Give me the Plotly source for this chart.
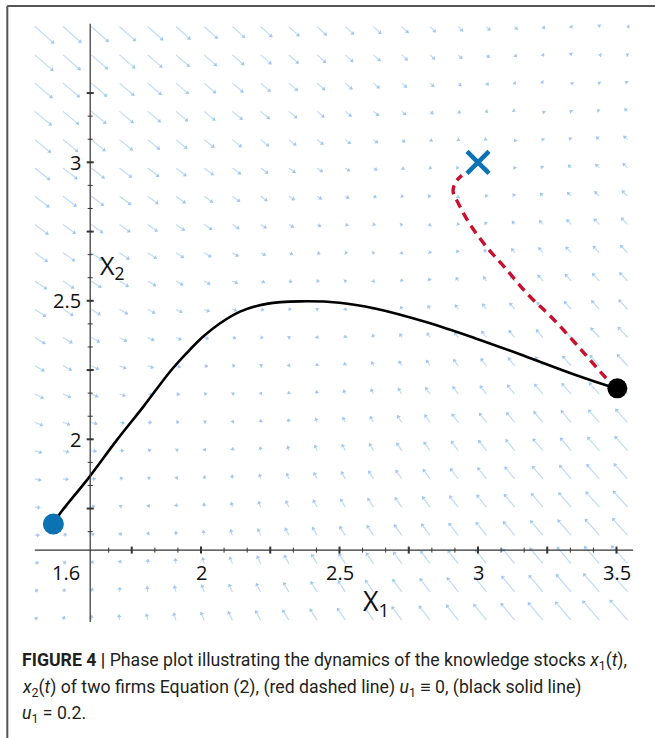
import numpy as np
import plotly.graph_objects as go

# ---------------- data ----------------
# black solid trajectory (u1 = 0.2)
black_x = [1.467, 1.491, 1.593, 1.696, 1.792, 1.888, 1.948, 2.008, 2.069, 2.141, 2.237, 2.357,
           2.500, 2.628, 2.809, 2.989, 3.170, 3.350, 3.483, 3.503]
black_y = [1.694, 1.732, 1.859, 1.997, 2.118, 2.244, 2.311, 2.371, 2.419, 2.461, 2.489, 2.498,
           2.493, 2.472, 2.424, 2.365, 2.300, 2.233, 2.189, 2.184]
# red dashed trajectory (u1 = 0)
red_x = [3.503, 3.458, 3.379, 3.267, 3.181, 3.097, 3.033, 2.971, 2.931, 2.910, 2.921, 2.942]
red_y = [2.184, 2.226, 2.316, 2.439, 2.522, 2.620, 2.692, 2.776, 2.848, 2.895, 2.931, 2.953]
# special points
start_pt = (1.467, 1.694)
switch_pt = (3.503, 2.184)
target_pt = (3.0, 3.0)

# direction field model coefficients (estimated from arrows)
ALPHA = 0.2
BETA = 1.0
C_EQ = 3.2
field_x = np.linspace(1.40, 3.54, 22)
field_y = np.linspace(1.347, 3.49, 22)

# axes / ticks
axis_cross = (1.6, 1.6)
x_axis_span = (1.40, 3.56)
y_axis_span = (1.34, 3.50)
x_tick_vals = [1.6, 2, 2.5, 3, 3.5]
x_tick_text = ["1.6", "2", "2.5", "3", "3.5"]
y_tick_vals = [2, 2.5, 3]
y_tick_text = ["2", "2.5", "3"]

# ---------------- layout constants ----------------
W, H = 655, 738
PX = 277.0  # pixels per data unit
x0 = 2 - 201 / PX
x1 = x0 + W / PX
ytop = 2 + 439.3 / PX
ybot = ytop - H / PX
d = 1 / PX  # one pixel in data units

fig = go.Figure()

# ---- direction field ----
sx, sy, hx, hy, ang = [], [], [], [], []
scale = 7.9 * d
for gx in field_x:
    for gy in field_y:
        vx = ALPHA * (C_EQ - gx) + BETA * (gy - gx)
        vy = ALPHA * (C_EQ - gy) + BETA * (gx - gy)
        ex, ey = gx + vx * scale, gy + vy * scale
        sx += [gx, ex, None]
        sy += [gy, ey, None]
        n = np.hypot(vx, vy)
        ux, uy = (vx / n, vy / n) if n > 0 else (0, 1)
        hx.append(ex - ux * 1.8 * d)
        hy.append(ey - uy * 1.8 * d)
        ang.append(float(np.degrees(np.arctan2(ux, uy))))

fig.add_trace(go.Scatter(x=sx, y=sy, mode="lines",
                         line=dict(color="rgb(190,219,246)", width=1.2),
                         hoverinfo="skip", showlegend=False))
fig.add_trace(go.Scatter(x=hx, y=hy, mode="markers",
                         marker=dict(symbol="triangle-up", size=4, angle=ang,
                                     color="rgb(160,200,243)", line=dict(width=0)),
                         hoverinfo="skip", showlegend=False))

# ---- axes lines ----
ax_col = "#333333"
fig.add_shape(type="line", x0=x_axis_span[0], x1=x_axis_span[1], y0=axis_cross[1], y1=axis_cross[1],
              line=dict(color=ax_col, width=1.2))
fig.add_shape(type="line", x0=axis_cross[0], x1=axis_cross[0], y0=y_axis_span[0], y1=y_axis_span[1],
              line=dict(color=ax_col, width=1.2))

# ticks: majors every 0.25, minors every 1/12
for k in range(int(1.6 * 12) + 1, int(3.5 * 12) + 1):
    v = k / 12
    major = (k % 3 == 0)
    L = (3.5 if major else 2.5) * d
    w = 2.0 if major else 1.0
    fig.add_shape(type="line", x0=v, x1=v, y0=axis_cross[1] - L, y1=axis_cross[1] + L,
                  line=dict(color=ax_col, width=w))
for k in range(int(1.6 * 12) + 1, int(3.26 * 12) + 1):
    v = k / 12
    major = (k % 3 == 0)
    L = (3.5 if major else 2.5) * d
    w = 2.0 if major else 1.0
    fig.add_shape(type="line", y0=v, y1=v, x0=axis_cross[0] - L, x1=axis_cross[0] + L,
                  line=dict(color=ax_col, width=w))

tick_font = dict(family="Open Sans, sans-serif", size=20, color="#111111")
for v, t in zip(x_tick_vals, x_tick_text):
    if v == axis_cross[0]:
        fig.add_annotation(x=v - 8 * d, y=1.520, text=t, showarrow=False, xanchor="right",
                           yanchor="middle", font=tick_font)
    else:
        fig.add_annotation(x=v, y=1.520, text=t, showarrow=False, xanchor="center",
                           yanchor="middle", font=tick_font)
for v, t in zip(y_tick_vals, y_tick_text):
    fig.add_annotation(x=axis_cross[0] - 7 * d, y=v, text=t, showarrow=False, xanchor="right",
                       yanchor="middle", font=tick_font)

fig.add_annotation(x=1.677, y=2.625, text="X<sub>2</sub>", showarrow=False,
                   font=dict(family="Open Sans, sans-serif", size=25, color="#111111"))
fig.add_annotation(x=2.630, y=1.412, text="X<sub>1</sub>", showarrow=False,
                   font=dict(family="Open Sans, sans-serif", size=27, color="#111111"))

# ---- trajectories ----
fig.add_trace(go.Scatter(x=black_x, y=black_y, mode="lines",
                         line=dict(color="black", width=2.6, shape="spline", smoothing=1.0),
                         hoverinfo="skip", showlegend=False))
fig.add_trace(go.Scatter(x=red_x, y=red_y, mode="lines",
                         line=dict(color="#c8102e", width=3.4, dash="9px,6px", shape="spline"),
                         hoverinfo="skip", showlegend=False))
fig.add_trace(go.Scatter(x=[start_pt[0]], y=[start_pt[1]], mode="markers",
                         marker=dict(size=21, color="#0b72b3"), hoverinfo="skip", showlegend=False))
fig.add_trace(go.Scatter(x=[switch_pt[0]], y=[switch_pt[1]], mode="markers",
                         marker=dict(size=20, color="black"), hoverinfo="skip", showlegend=False))
fig.add_trace(go.Scatter(x=[target_pt[0]], y=[target_pt[1]], mode="markers",
                         marker=dict(symbol="x-thin", size=22, line=dict(color="#0b72b3", width=4.5)),
                         hoverinfo="skip", showlegend=False))

# ---- frame ----
fig.add_shape(type="line", xref="paper", yref="paper", x0=7.3 / W, x1=7.3 / W, y0=0, y1=1 - 6 / H,
              line=dict(color="#555555", width=2))
fig.add_shape(type="line", xref="paper", yref="paper", x0=7.3 / W, x1=1, y0=1 - 6 / H, y1=1 - 6 / H,
              line=dict(color="#555555", width=2))

# ---- caption ----
cap_font = dict(family="Roboto, sans-serif", size=17.7, color="#231f20")
cap_lines = [
    "<b>FIGURE 4 |</b> Phase plot illustrating the dynamics of the knowledge stocks <i>x</i><sub>1</sub>(<i>t</i>),",
    "<i>x</i><sub>2</sub>(<i>t</i>) of two firms Equation (2), (red dashed line) <i>u</i><sub>1</sub> ≡ 0, (black solid line)",
    "<i>u</i><sub>1</sub> = 0.2.",
]
for t, yy in zip(cap_lines, [661, 688, 714]):
    fig.add_annotation(xref="paper", yref="paper", x=20 / W, y=1 - yy / H, text=t, showarrow=False,
                       xanchor="left", yanchor="middle", font=cap_font, align="left")

fig.update_layout(
    width=W, height=H, margin=dict(l=0, r=0, t=0, b=0, pad=0),
    paper_bgcolor="white", plot_bgcolor="white",
    xaxis=dict(range=[x0, x1], visible=False, fixedrange=True),
    yaxis=dict(range=[ybot, ytop], visible=False, fixedrange=True),
    showlegend=False,
)
fig.write_html("out.html", config={"displayModeBar": False})
